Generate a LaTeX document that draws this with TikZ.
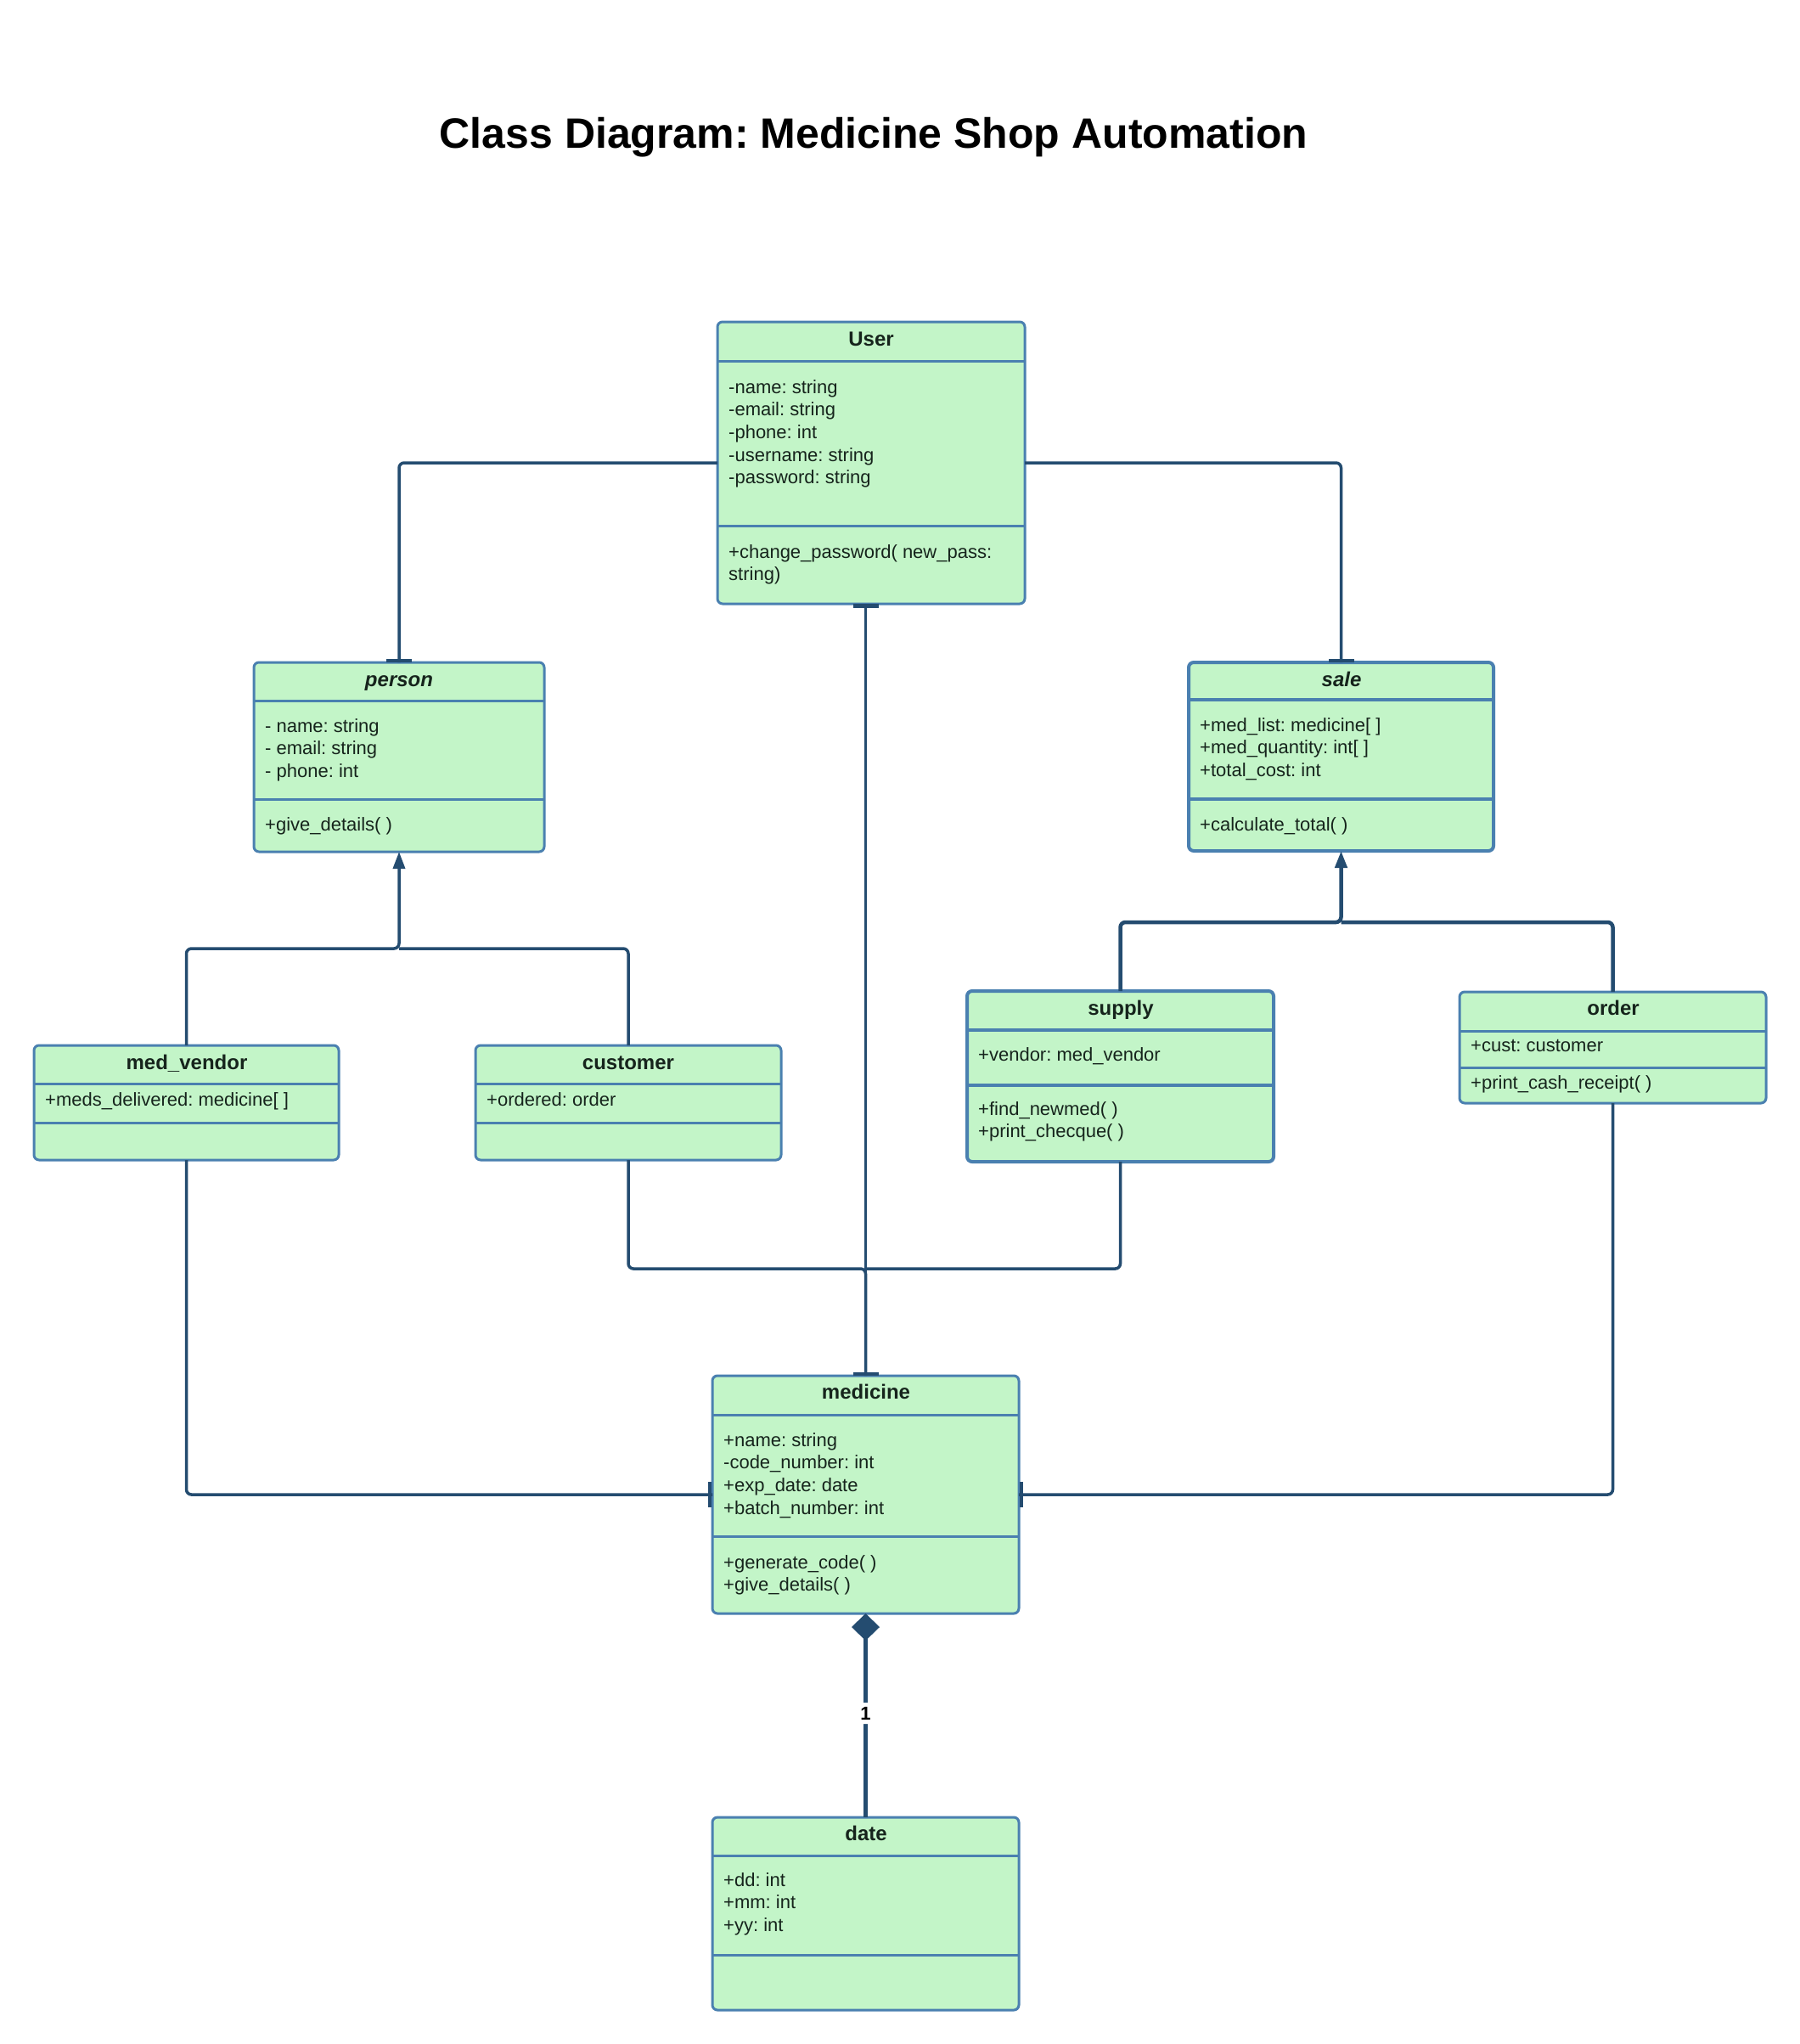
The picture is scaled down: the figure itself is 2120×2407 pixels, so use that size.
\documentclass[tikz,border=0pt]{standalone}
\usepackage{fontspec}
\setmainfont{Liberation Sans}
\frenchspacing
\usetikzlibrary{arrows.meta}
\definecolor{boxfill}{RGB}{195,245,200}
\definecolor{boxline}{RGB}{74,128,176}
\definecolor{conncol}{RGB}{36,76,112}
\definecolor{txt}{RGB}{22,36,28}
\tikzset{
  cls/.style={draw=boxline, fill=boxfill, line width=3pt, rounded corners=6pt, inner sep=0pt, outer sep=0pt},
  sepline/.style={draw=boxline, line width=3pt},
  hdr/.style={font=\fontsize{24}{28}\selectfont\bfseries, text=txt, inner sep=0pt, anchor=base},
  attr/.style={font=\fontsize{22}{26}\selectfont, text=txt, inner sep=0pt, anchor=base west},
  conn/.style={draw=conncol, line width=3.5pt, rounded corners=6pt},
  barfill/.style={fill=conncol},
  gentip/.style={-{Triangle[width=14pt,length=20pt]}},
}
% name, left, top, right, bottom, header line, divider line
\newcommand{\umlbox}[8][]{%
  \node[cls,#1, minimum width={#5-#3}, minimum height={#6-#4}] (#2) at ({(#3+#5)/2},{(#4+#6)/2}) {};
  \draw[sepline,#1] (#3,#7) -- (#5,#7);
  \draw[sepline,#1] (#3,#8) -- (#5,#8);
}
% prefix, x, first baseline, list of lines
\newcommand{\umllines}[4]{%
  \foreach \t [count=\i] in {#4} \node[attr] (#1\i) at (#2,{#3+26.7*(\i-1)}) {\t};
}
\begin{document}
\begin{tikzpicture}[x=1pt,y=-1pt]
\useasboundingbox (0,0) rectangle (2120,2407);
\fill[white] (0,0) rectangle (2120,2407);

\node[font=\fontsize{50}{60}\selectfont\bfseries, text=black, inner sep=0pt] (title) at (1029,162) {Class Diagram: Medicine Shop Automation};

% ---------- boxes ----------
\umlbox{user}{845}{379}{1207}{711}{425}{619}
\node[hdr] (userh) at (1026,407) {User};
\umllines{ua}{858}{463}{-name: string, -email: string, -phone: int, -username: string, -password: string}
\umllines{um}{858}{657}{+change\_password( new\_pass:, string)}

\umlbox{person}{299}{780}{641}{1003}{825}{941}
\node[hdr, font=\fontsize{24}{28}\selectfont\bfseries\itshape] (personh) at (470,808) {person};
\umllines{pa}{312}{862}{- name: string, - email: string, - phone: int}
\umllines{pm}{312}{978}{+give\_details( )}

\umlbox[line width=4pt]{sale}{1400}{780}{1759}{1002}{824}{941}
\node[hdr, font=\fontsize{24}{28}\selectfont\bfseries\itshape] (saleh) at (1580,808) {sale};
\umllines{sa}{1413}{861}{+med\_list: medicine[ ], +med\_quantity: int[ ], +total\_cost: int}
\umllines{sm}{1413}{978}{+calculate\_total( )}

\umlbox{medvendor}{40}{1231}{399}{1366}{1276}{1322}
\node[hdr] (medvendorh) at (220,1259) {med\_vendor};
\umllines{mva}{53}{1302}{+meds\_delivered: medicine[ ]}

\umlbox{customer}{560}{1231}{920}{1366}{1276}{1322}
\node[hdr] (customerh) at (740,1259) {customer};
\umllines{ca}{573}{1302}{+ordered: order}

\umlbox[line width=4pt]{supply}{1139}{1167}{1500}{1368}{1213}{1278}
\node[hdr] (supplyh) at (1320,1195) {supply};
\umllines{spa}{1152}{1249}{+vendor: med\_vendor}
\umllines{spm}{1152}{1313}{+find\_newmed( ), +print\_checque( )}

\umlbox{order}{1719}{1168}{2080}{1299}{1214}{1257}
\node[hdr] (orderh) at (1900,1195) {order};
\umllines{oa}{1732}{1238}{+cust: customer}
\umllines{om}{1732}{1282}{+print\_cash\_receipt( )}

\umlbox{medicine}{839}{1620}{1200}{1900}{1666}{1809}
\node[hdr] (medicineh) at (1020,1647) {medicine};
\umllines{ma}{852}{1703}{+name: string, -code\_number: int, +exp\_date: date, +batch\_number: int}
\umllines{mm}{852}{1847}{+generate\_code( ), +give\_details( )}

\umlbox{date}{839}{2140}{1200}{2367}{2185}{2302}
\node[hdr] (dateh) at (1020,2167) {date};
\umllines{da}{852}{2221}{+dd: int, +mm: int, +yy: int}

% ---------- connectors ----------
\path (person.south) ++(0,114) coordinate (pj);
\path (sale.south) ++(0,84) coordinate (sj);
\path (medicine.north) ++(0,-126) coordinate (cj);

\draw[conn] (user.west) -| (person.north);
\draw[conn] (user.east) -| (sale.north);
\draw[conn] (user.south -| medicine.north) -- (medicine.north);

\draw[conn, gentip] (medvendor.north) |- (pj) -- (person.south);
\draw[conn] (customer.north) |- (pj);

\draw[conn, line width=4.5pt, gentip] (supply.north) |- (sj) -- (sale.south);
\draw[conn, line width=4.5pt] (order.north) |- (sj);

\draw[conn] (customer.south) |- (cj) -- (medicine.north);
\draw[conn] (supply.south) |- (cj);
\draw[conn] (medvendor.south) |- (medicine.west);
\draw[conn] (order.south) |- (medicine.east);

\draw[conn, line width=4.5pt, {Diamond[width=33pt,length=32pt]}-] (medicine.south) -- node[pos=0.49, fill=white, text=black, font=\fontsize{22}{24}\selectfont\bfseries, inner sep=5pt] (mult) {1} (date.north);

% ---------- end bars ----------
\fill[barfill] (1005,711) rectangle (1035,716);
\fill[barfill] (455,776) rectangle (485,780);
\fill[barfill] (1565,776) rectangle (1595,780);
\fill[barfill] (1005,1616) rectangle (1035,1620);
\fill[barfill] (834,1745) rectangle (838,1775);
\fill[barfill] (1201,1745) rectangle (1205,1775);
\end{tikzpicture}
\end{document}
